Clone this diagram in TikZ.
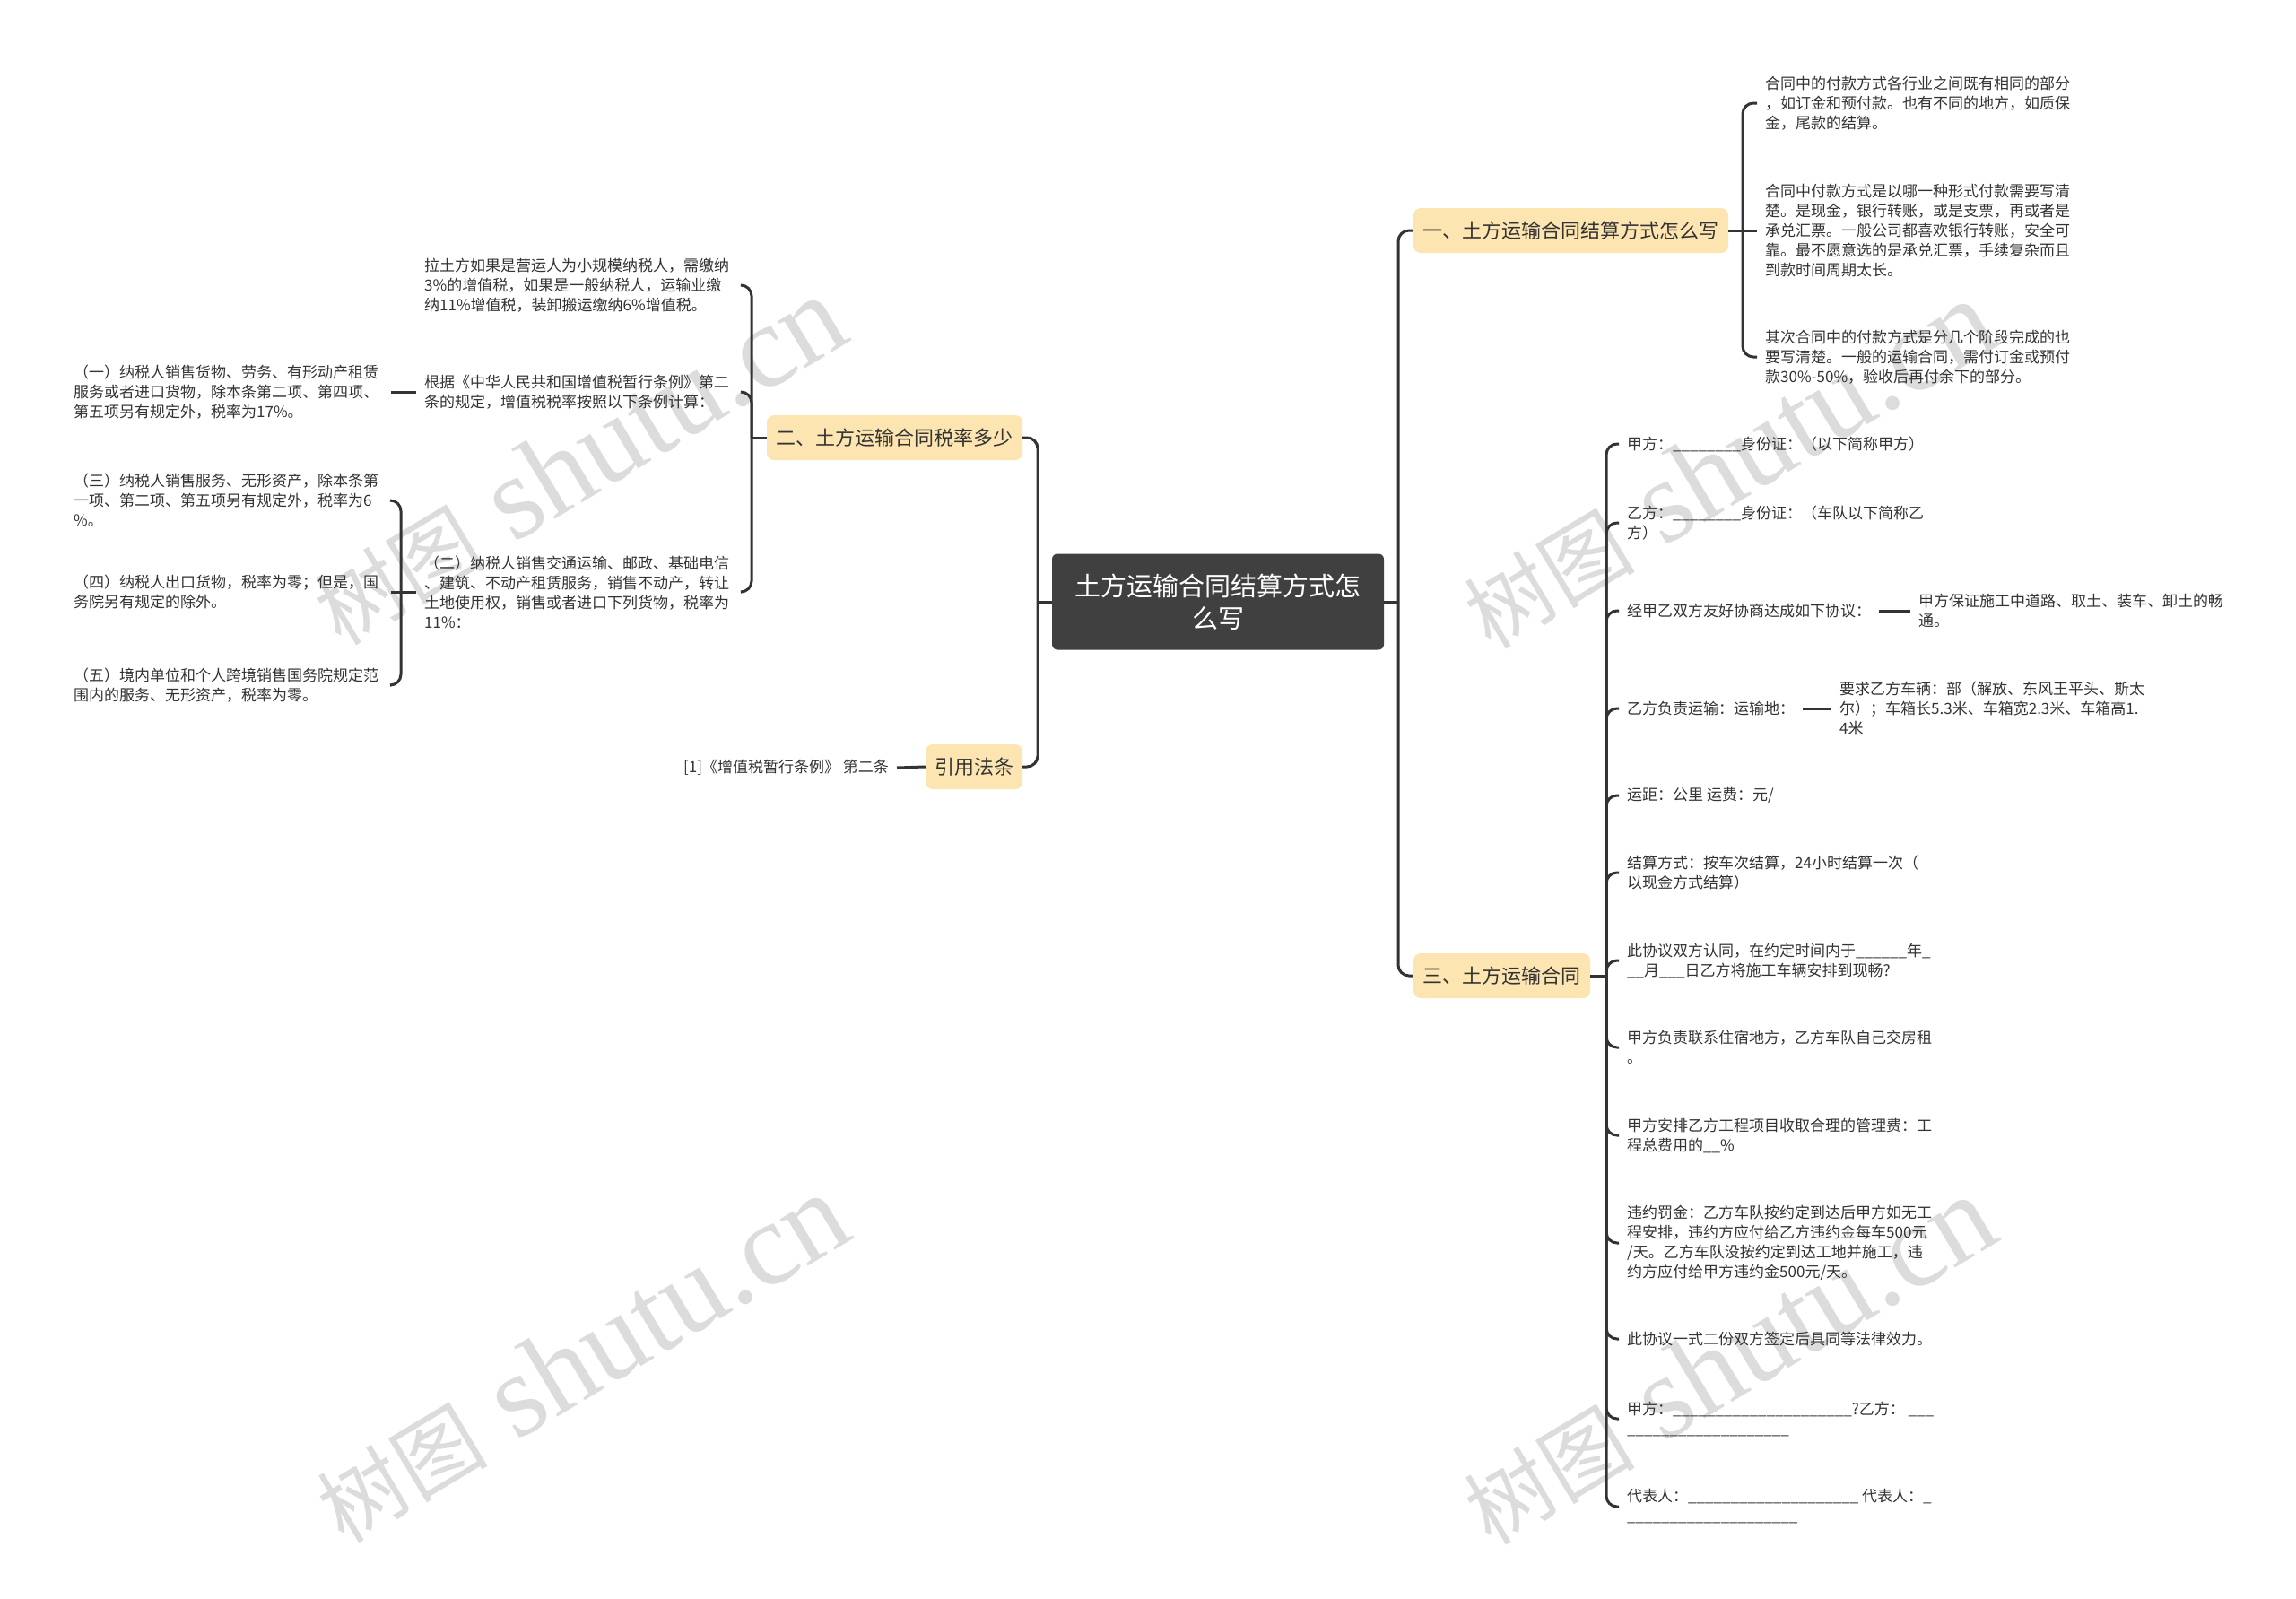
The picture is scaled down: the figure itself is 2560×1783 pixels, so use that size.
\documentclass[tikz,border=0pt]{standalone}
\usepackage{fontspec}
\newfontfamily\cjk{Noto Sans CJK SC}
\newfontfamily\wmlat{Liberation Serif}
\usetikzlibrary{calc}
\definecolor{topicfill}{RGB}{253,229,178}
\definecolor{rootfill}{RGB}{64,64,64}
\definecolor{linec}{RGB}{51,51,51}
\definecolor{txt}{RGB}{51,51,51}
\definecolor{wm}{RGB}{220,220,220}
\ExplSyntaxOn
\newcommand\myus[1]{\prg_replicate:nn{#1}{\_}}
\ExplSyntaxOff
\begin{document}
\begin{tikzpicture}[x=1pt,y=-1pt,
 conn/.style={draw=linec,line width=3pt,rounded corners=12pt},
 rootbox/.style={fill=rootfill,rounded corners=6pt,text=white,font=\cjk\fontsize{29}{36}\selectfont,align=center,minimum width=370pt,minimum height=107pt,inner sep=0pt},
 topic/.style={fill=topicfill,rounded corners=8pt,text=txt,minimum height=50pt,inner sep=0pt,font=\cjk\fontsize{22}{26}\selectfont},
 leaf/.style={text=txt,font=\cjk\fontsize{17}{22}\selectfont,align=left,inner xsep=9pt,inner ysep=0pt},
 leafw/.style={leaf,text width=345pt},
 wmark/.style={text=wm,rotate=31,inner sep=0pt}]
\useasboundingbox (0,0) rectangle (2560,1783);
\fill[white] (0,0) rectangle (2560,1783);
% watermarks
\foreach \wx/\wy/\wn in {645/514/w1,1927/518/w2,648/1515/w3,1927/1517/w4}{
 \node[wmark] (\wn) at (\wx,\wy) {{\cjk\fontsize{95}{95}\selectfont 树图}{\wmlat\fontsize{132}{132}\selectfont ~shutu.cn}};
}
% root and topics
\node[rootbox] (root) at (1358,671) {土方运输合同结算方式怎\\么写};
\node[topic,minimum width=351pt] (t1) at (1751.5,257) {一、土方运输合同结算方式怎么写};
\node[topic,minimum width=285pt] (t2) at (997.5,488) {二、土方运输合同税率多少};
\node[topic,minimum width=197pt] (t3) at (1674.5,1088) {三、土方运输合同};
\node[topic,minimum width=108pt] (t4) at (1086,855) {引用法条};
% topic 4 leaf
\node[leaf,anchor=east] (r1) at (1000,856) {[1]《增值税暂行条例》 第二条};
% topic 1 leaves
\node[leaf,anchor=west] (p1) at (1959,115) {合同中的付款方式各行业之间既有相同的部分\\，如订金和预付款。也有不同的地方，如质保\\金，尾款的结算。};
\node[leaf,anchor=west] (p2) at (1959,257) {合同中付款方式是以哪一种形式付款需要写清\\楚。是现金，银行转账，或是支票，再或者是\\承兑汇票。一般公司都喜欢银行转账，安全可\\靠。最不愿意选的是承兑汇票，手续复杂而且\\到款时间周期太长。};
\node[leaf,anchor=west] (p3) at (1959,398) {其次合同中的付款方式是分几个阶段完成的也\\要写清楚。一般的运输合同，需付订金或预付\\款30\%-50\%，验收后再付余下的部分。};
% topic 2 leaves
\node[leafw,anchor=west] (a) at (464,318) {拉土方如果是营运人为小规模纳税人，需缴纳\\3\%的增值税，如果是一般纳税人，运输业缴\\纳11\%增值税，装卸搬运缴纳6\%增值税。};
\node[leafw,anchor=west] (b) at (464,437) {根据《中华人民共和国增值税暂行条例》第二\\条的规定，增值税税率按照以下条例计算：};
\node[leafw,anchor=west] (c) at (464,660) {（二）纳税人销售交通运输、邮政、基础电信\\、建筑、不动产租赁服务，销售不动产，转让\\土地使用权，销售或者进口下列货物，税率为\\11\%：};
\node[leafw,anchor=west] (s1) at (73,437) {（一）纳税人销售货物、劳务、有形动产租赁\\服务或者进口货物，除本条第二项、第四项、\\第五项另有规定外，税率为17\%。};
\node[leafw,anchor=west] (s3) at (73,558) {（三）纳税人销售服务、无形资产，除本条第\\一项、第二项、第五项另有规定外，税率为6\\\%。};
\node[leafw,anchor=west] (s4) at (73,660) {（四）纳税人出口货物，税率为零；但是，国\\务院另有规定的除外。};
\node[leafw,anchor=west] (s5) at (73,764) {（五）境内单位和个人跨境销售国务院规定范\\围内的服务、无形资产，税率为零。};
% topic 3 leaves
\node[leaf,anchor=west] (q1) at (1805,495) {甲方：\myus{8}身份证：（以下简称甲方）};
\node[leaf,anchor=west] (q2) at (1805,583) {乙方：\myus{8}身份证：（车队以下简称乙\\方）};
\node[leaf,anchor=west] (q3) at (1805,681) {经甲乙双方友好协商达成如下协议：};
\node[leaf,anchor=west] (q3a) at (2130,681) {甲方保证施工中道路、取土、装车、卸土的畅\\通。};
\node[leaf,anchor=west] (q4) at (1805,790) {乙方负责运输：运输地：};
\node[leaf,anchor=west] (q4a) at (2042,790) {要求乙方车辆：部（解放、东风王平头、斯太\\尔）；车箱长5.3米、车箱宽2.3米、车箱高1.\\4米};
\node[leaf,anchor=west] (q5) at (1805,887) {运距：公里 运费：元/};
\node[leaf,anchor=west] (q6) at (1805,973) {结算方式：按车次结算，24小时结算一次（\\以现金方式结算）};
\node[leaf,anchor=west] (q7) at (1805,1071) {此协议双方认同，在约定时间内于\myus{6}年\_\\\_\_月\_\_\_日乙方将施工车辆安排到现畅?};
\node[leaf,anchor=west] (q8) at (1805,1168) {甲方负责联系住宿地方，乙方车队自己交房租\\。};
\node[leaf,anchor=west] (q9) at (1805,1266) {甲方安排乙方工程项目收取合理的管理费：工\\程总费用的\_\_\%};
\node[leaf,anchor=west] (q10) at (1805,1386) {违约罚金：乙方车队按约定到达后甲方如无工\\程安排，违约方应付给乙方违约金每车500元\\/天。乙方车队没按约定到达工地并施工，违\\约方应付给甲方违约金500元/天。};
\node[leaf,anchor=west] (q11) at (1805,1493) {此协议一式二份双方签定后具同等法律效力。};
\node[leaf,anchor=west] (q12) at (1805,1582) {甲方：\myus{21}?乙方：\ \myus{3}\\\myus{19}};
\node[leaf,anchor=west] (q13) at (1805,1680) {代表人：\myus{20}\ 代表人：\_\\\myus{20}};
% connectors: root
\coordinate (jR) at (1559,671);
\coordinate (jL) at (1157,671);
\draw[conn] (root.east) -- (jR);
\draw[conn] (jR) |- (t1.west);
\draw[conn] (jR) |- (t3.west);
\draw[conn] (root.west) -- (jL);
\draw[conn] (jL) |- (t2.east);
\draw[conn] (jL) |- (t4.east);
% topic 4
\draw[conn] (t4.west) -- (r1.east);
% topic 1
\coordinate (j1) at (1943,257);
\draw[conn] (t1.east) -- (j1);
\draw[conn] (j1) |- (p1.west);
\draw[conn] (j1) -- (p2.west);
\draw[conn] (j1) |- (p3.west);
% topic 2
\coordinate (j2) at (838,488);
\draw[conn] (t2.west) -- (j2);
\draw[conn] (j2) |- (a.east);
\draw[conn] (j2) |- (b.east);
\draw[conn] (j2) |- (c.east);
\draw[conn] (b.west) -- (s1.east);
\coordinate (jc) at (447,660);
\draw[conn] (c.west) -- (jc);
\draw[conn] (jc) |- (s3.east);
\draw[conn] (jc) -- (s4.east);
\draw[conn] (jc) |- (s5.east);
% topic 3
\coordinate (j3) at (1791,1088);
\draw[conn] (t3.east) -- (j3);
\foreach \n in {q1,q2,q3,q4,q5,q6,q7,q8,q9,q10,q11,q12,q13}{
 \draw[conn] (j3) |- (\n.west);
}
\draw[conn] (q3.east) -- (q3a.west);
\draw[conn] (q4.east) -- (q4a.west);
\end{tikzpicture}
\end{document}
